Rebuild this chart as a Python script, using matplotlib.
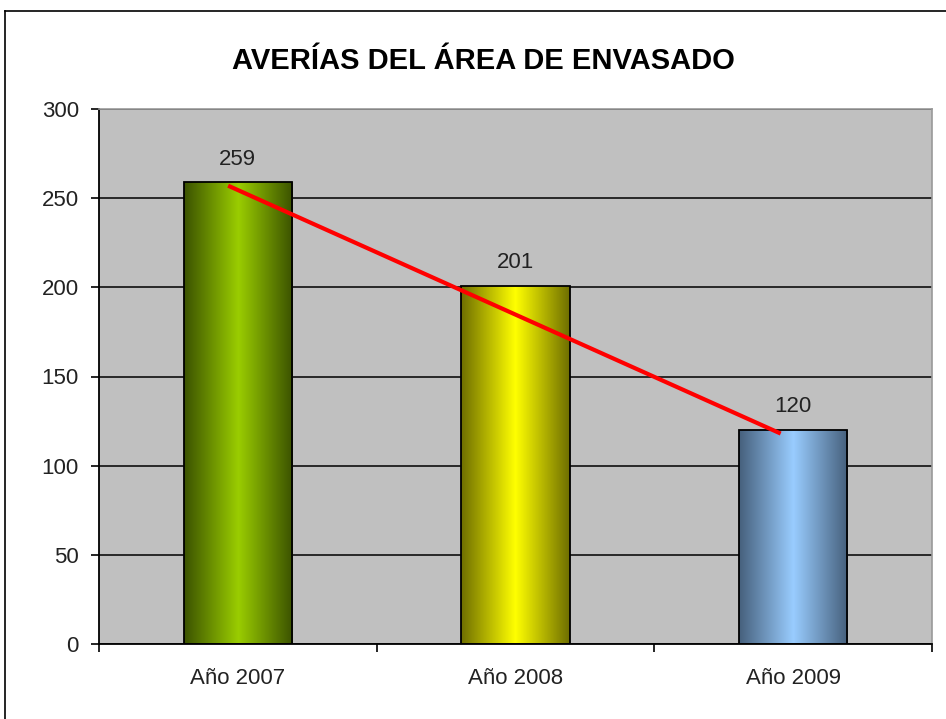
import numpy as np
import matplotlib
matplotlib.use("Agg")
import matplotlib.pyplot as plt
from matplotlib.colors import LinearSegmentedColormap
from matplotlib.patches import Rectangle
from matplotlib.lines import Line2D

plt.rcParams['font.family'] = ['Liberation Sans', 'DejaVu Sans']

# Data
categories = ["Año 2007", "Año 2008", "Año 2009"]
values = [259, 201, 120]
trend_x = [-0.035, 1.955]
trend_y = [257, 118]
yticks = [0, 50, 100, 150, 200, 250, 300]

# Bar gradients: (edge colour, centre colour)
bar_shades = [("#3b5200", "#9acd00"),
              ("#6e6e00", "#ffff00"),
              ("#46607c", "#99ccff")]

W, H = 946, 719
fig = plt.figure(figsize=(W / 100, H / 100), dpi=100)
fig.patch.set_facecolor("white")

# Outer chart frame (top and left edges)
fig.add_artist(Line2D([5 / W, 1.0], [1 - 11 / H, 1 - 11 / H], color="black", lw=1.2,
                      transform=fig.transFigure))
fig.add_artist(Line2D([5 / W, 5 / W], [0, 1 - 11 / H], color="black", lw=1.2,
                      transform=fig.transFigure))

ax = fig.add_axes([99 / W, 75 / H, 833 / W, 535 / H])
ax.set_facecolor("#c0c0c0")
ax.set_xlim(-0.5, 2.5)
ax.set_ylim(0, 300)

ax.set_yticks(yticks)
ax.yaxis.grid(True, color="black", lw=1.1)
ax.set_axisbelow(True)

for s in ("top", "right"):
    ax.spines[s].set_color("#999999")
    ax.spines[s].set_linewidth(1.2)
for s in ("left", "bottom"):
    ax.spines[s].set_color("black")
    ax.spines[s].set_linewidth(1.3)

ax.tick_params(axis="y", direction="out", length=6, width=1.2, pad=8.5,
               labelsize=16, labelcolor="#222222")
ax.set_xticks(range(len(categories)))
ax.set_xticklabels(categories)
ax.tick_params(axis="x", which="major", length=0, pad=17, labelsize=16,
               labelcolor="#222222")
ax.set_xticks(np.arange(-0.5, len(categories), 1.0), minor=True)
ax.tick_params(axis="x", which="minor", direction="out", length=6, width=1.2)

bar_w = 0.39
t = np.linspace(0, 1, 256)
for i, (v, (edge, centre)) in enumerate(zip(values, bar_shades)):
    cmap = LinearSegmentedColormap.from_list(f"shade{i}", [edge, centre, edge])
    x0 = i - bar_w / 2
    img = ax.imshow(t[np.newaxis, :], cmap=cmap, aspect="auto",
                    extent=[x0, x0 + bar_w, 0, v], zorder=2, interpolation="bilinear")
    rect = Rectangle((x0, 0), bar_w, v, facecolor="none", edgecolor="black",
                     lw=1.3, zorder=3)
    ax.add_patch(rect)
    img.set_clip_path(rect)
    ax.annotate(str(v), (i, v), xytext=(0, 9), textcoords="offset points",
                ha="center", va="bottom", fontsize=16, color="#222222", zorder=5)

ax.set_xlim(-0.5, 2.5)
ax.set_ylim(0, 300)

ax.plot(trend_x, trend_y, color="#ff0000", lw=3, solid_capstyle="butt", zorder=4)

fig.text(483 / W, 1 - 61 / H, "AVERÍAS DEL ÁREA DE ENVASADO", ha="center", va="center",
         fontsize=21, fontweight="bold", color="black")

fig.savefig("out.png", dpi=100)
